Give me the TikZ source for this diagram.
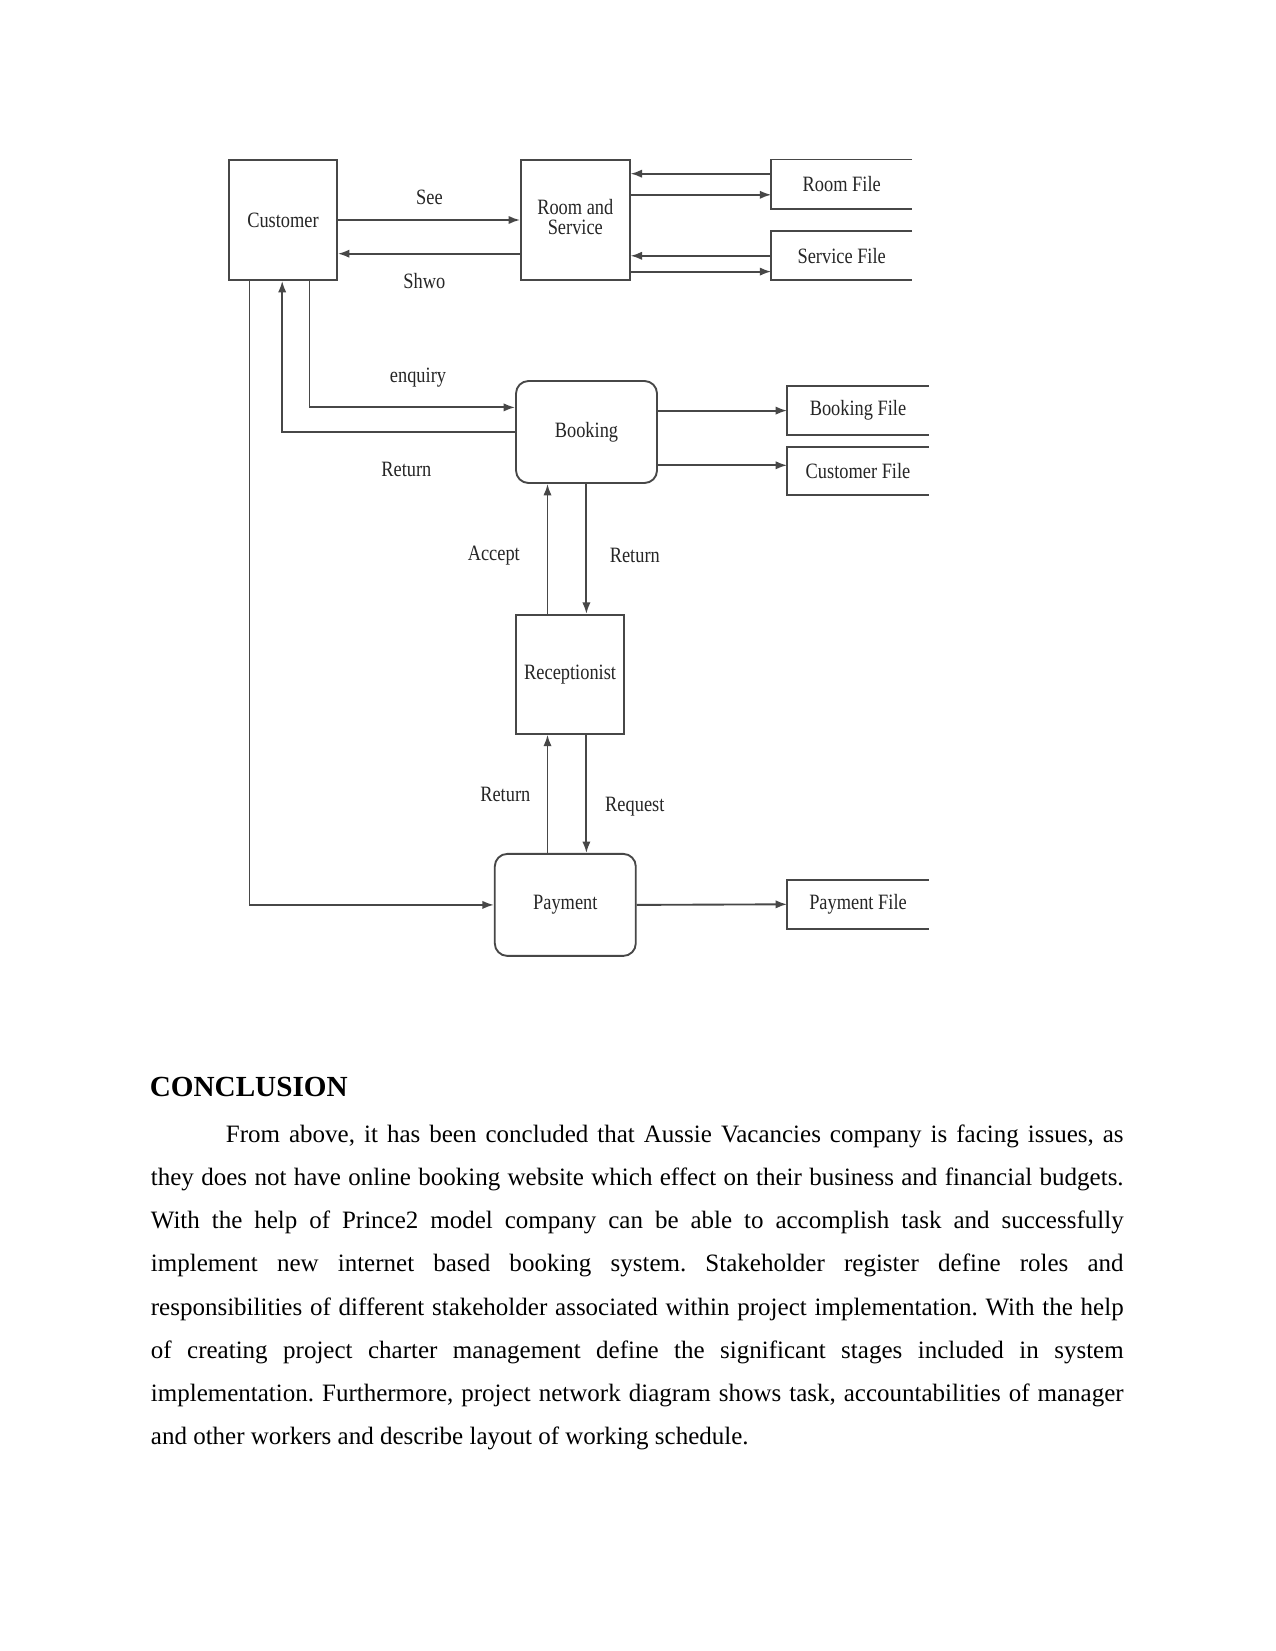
\documentclass[tikz,border=0pt]{standalone}
\usepackage{fontspec}
\setmainfont{Liberation Serif}
\usepackage{graphicx}
\usetikzlibrary{arrows.meta,calc}
\newcommand{\dl}[1]{\scalebox{0.84}[1]{\fontsize{10.5}{11}\selectfont #1}}
\begin{document}
\begin{tikzpicture}[x=0.48pt,y=-0.48pt,
  dline/.style={draw=black!72,line width=0.9pt},
  arr/.style={dline,-{Latex[length=5.5pt,width=4pt]}},
  sqbox/.style={dline,rectangle,inner sep=0pt,text=black!85},
  rbox/.style={dline,rectangle,rounded corners=6pt,inner sep=0pt,text=black!85},
  filebox/.style={rectangle,inner sep=0pt,text=black!85},
  lbl/.style={inner sep=0pt,text=black!85}]
\useasboundingbox (0,0) rectangle (1275,1651);
\fill[white] (0,0) rectangle (1275,1651);

% boxes
\node[sqbox,minimum width=108*0.48pt,minimum height=120*0.48pt] (cust) at (283,220) {\dl{Customer}};
\node[sqbox,minimum width=108.6*0.48pt,minimum height=120*0.48pt] (rs) at (575.3,220)
  {\dl{\begin{tabular}{@{}c@{}}Room and\\[-1pt]Service\end{tabular}}};
\node[filebox,minimum width=140*0.48pt,minimum height=48.5*0.48pt] (rf) at (841.7,184.2) {\dl{Room File}};
\node[filebox,minimum width=140*0.48pt,minimum height=48.4*0.48pt] (sf) at (841.7,255.8) {\dl{Service File}};
\node[rbox,minimum width=141*0.48pt,minimum height=102*0.48pt] (book) at (586.5,432) {\dl{Booking}};
\node[filebox,minimum width=141*0.48pt,minimum height=48.4*0.48pt] (bf) at (858,410.6) {\dl{Booking File}};
\node[filebox,minimum width=141*0.48pt,minimum height=47.4*0.48pt] (cf) at (858,471.1) {\dl{Customer File}};
\node[sqbox,minimum width=108.3*0.48pt,minimum height=119*0.48pt] (rec) at (570.1,674.3) {\dl{Receptionist}};
\node[rbox,minimum width=141*0.48pt,minimum height=102*0.48pt] (pay) at (565.3,904.9) {\dl{Payment}};
\node[filebox,minimum width=141*0.48pt,minimum height=48.5*0.48pt] (pf) at (858,904.3) {\dl{Payment File}};

% open-ended file stores
\foreach \f in {rf,sf,bf,cf,pf}{
  \draw[dline] (\f.north east) -- (\f.north west) -- (\f.south west) -- (\f.south east);
}

% connectors
\draw[arr] (cust.east |- 0,220) -- (rs.west |- 0,220);
\draw[arr] (rs.west |- 0,253.7) -- (cust.east |- 0,253.7);
\draw[arr] (rf.west |- 0,173.7) -- (rs.east |- 0,173.7);
\draw[arr] (rs.east |- 0,194.8) -- (rf.west |- 0,194.8);
\draw[arr] (sf.west |- 0,255.8) -- (rs.east |- 0,255.8);
\draw[arr] (rs.east |- 0,271.6) -- (sf.west |- 0,271.6);

\draw[arr] (cust.south -| 309.5,0) |- (book.west |- 0,407.4);
\draw[arr] (book.west |- 0,431.6) -| (cust.south -| 282.2,0);
\draw[arr] (cust.south -| 249.5,0) |- (pay.west);

\draw[arr] (book.east |- 0,410.6) -- (bf.west);
\draw[arr] (book.east |- 0,465.3) -- (cf.west |- 0,465.3);

\draw[arr] (rec.north -| 547.5,0) -- (book.south -| 547.5,0);
\draw[arr] (book.south -| 586.4,0) -- (rec.north -| 586.4,0);
\draw[arr] (pay.north -| 547.5,0) -- (rec.south -| 547.5,0);
\draw[arr] (rec.south -| 586.4,0) -- (pay.north -| 586.4,0);
\draw[arr] (pay.east) -- (pf.west);

% labels
\node[lbl] (lsee) at (429.5,196.9) {\dl{See}};
\node[lbl] (lshwo) at (424.3,281.1) {\dl{Shwo}};
\node[lbl] (lenq) at (418,378) {\dl{enquiry}};
\node[lbl] (lret1) at (406.4,469.5) {\dl{Return}};
\node[lbl] (lacc) at (493.8,555.9) {\dl{Accept}};
\node[lbl] (lret2) at (634.8,555.9) {\dl{Return}};
\node[lbl] (lret3) at (505.3,794.9) {\dl{Return}};
\node[lbl] (lreq) at (634.8,806.4) {\dl{Request}};

% text
\node[anchor=base west,inner sep=0pt] (head) at (149.5,1096)
  {\fontsize{14}{16}\selectfont\bfseries CONCLUSION};
\node[anchor=base west,inner sep=0pt,text width=466.9pt,align=justify] (para) at (150.5,1142.7)
  {\fontsize{12}{20.68}\selectfont\frenchspacing\hyphenpenalty=10000\hspace*{36pt}From above, it has been concluded that Aussie Vacancies company is facing issues, as\linebreak
  they does not have online booking website which effect on their business and financial budgets.\linebreak
  With the help of Prince2 model company can be able to accomplish task and successfully\linebreak
  implement new internet based booking system. Stakeholder register define roles and\linebreak
  responsibilities of different stakeholder associated within project implementation. With the help\linebreak
  of creating project charter management define the significant stages included in system\linebreak
  implementation. Furthermore, project network diagram shows task, accountabilities of manager\linebreak
  and other workers and describe layout of working schedule.\par};
\end{tikzpicture}
\end{document}
